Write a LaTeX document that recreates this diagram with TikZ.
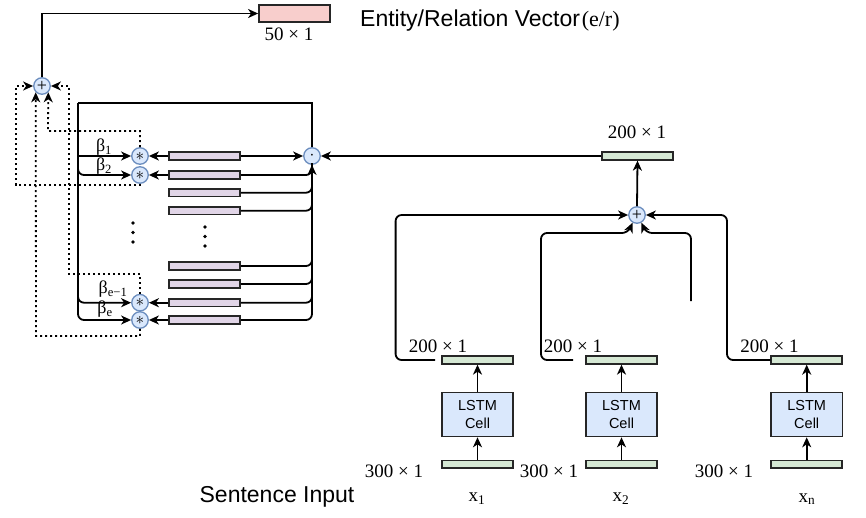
\documentclass[tikz,border=0pt]{standalone}
\usepackage{fontspec}
\setmainfont{Liberation Serif}
\newfontfamily\sansf{Liberation Sans}
\usetikzlibrary{arrows.meta,calc}
\definecolor{cfill}{HTML}{DAE8FC}
\definecolor{cline}{HTML}{6C8EBF}
\definecolor{pfill}{HTML}{E1D5E7}
\definecolor{gfill}{HTML}{D5E8D4}
\definecolor{rfill}{HTML}{F8CECC}
\begin{document}
\begin{tikzpicture}[x=1pt,y=-1pt,
  opnode/.style={circle,draw=cline,fill=cfill,line width=1.3pt,minimum size=16.5pt,inner sep=0pt,font=\fontsize{18}{18}\selectfont},
  barnode/.style={draw=black!85,line width=1.8pt,minimum width=71pt,minimum height=7.5pt,inner sep=0pt},
  pbar/.style={barnode,fill=pfill},
  gbar/.style={barnode,fill=gfill},
  lstmbox/.style={draw=black!85,fill=cfill,line width=1.6pt,minimum width=71.5pt,minimum height=44pt,align=center,inner sep=0pt,font=\sansf\fontsize{14.5}{17.5}\selectfont},
  lbl/.style={font=\fontsize{19}{20}\selectfont,inner sep=0pt},
  blbl/.style={font=\fontsize{18}{19}\selectfont,inner sep=0pt},
  arr/.style={line width=1.8pt,-{Stealth[length=10pt,width=9pt,inset=3pt]}},
  ln/.style={line width=1.8pt},
  dotline/.style={line width=2pt,dash pattern=on 2pt off 3pt},
  rc/.style={rounded corners=6pt},
]
\useasboundingbox (0,0) rectangle (866,517);

% top output
\node[draw=black!85,fill=rfill,line width=1.8pt,minimum width=71pt,minimum height=16.5pt,inner sep=0pt] (pink) at (294.5,13.5) {};
\node[lbl] (l50) at (289,34) {50 × 1};
\node[anchor=base west,inner sep=0pt] (title) at (360,26) {{\sansf\fontsize{23}{25}\selectfont Entity/Relation Vector}\,\fontsize{22}{24}\selectfont(e/r)};

% operator nodes
\node[opnode] (p1) at (42,86) {+};
\node[opnode] (s1) at (140,156) {$\ast$};
\node[opnode] (s2) at (140,175) {$\ast$};
\node[opnode] (se1) at (140,302.7) {$\ast$};
\node[opnode] (se) at (140,320) {$\ast$};
\node[opnode] (dot) at (312,156) {$\cdot$};
\node[opnode] (p2) at (637,215) {+};

% purple bars
\node[pbar] (b1) at (204.5,156) {};
\node[pbar] (b2) at (204.5,175) {};
\node[pbar] (b3) at (204.5,192.7) {};
\node[pbar] (b4) at (204.5,210.7) {};
\node[pbar] (b5) at (204.5,266) {};
\node[pbar] (b6) at (204.5,284) {};
\node[pbar] (b7) at (204.5,302.7) {};
\node[pbar] (b8) at (204.5,320) {};

% vertical ellipses
\foreach \yy in {223,232.5,242} \fill (133,\yy) circle (1.8pt);
\foreach \yy in {227,236.5,246} \fill (205,\yy) circle (1.8pt);

% beta labels
\node[blbl] (beta1) at (104,147) {β\textsubscript{1}};
\node[blbl] (beta2) at (104,166) {β\textsubscript{2}};
\node[blbl] (betae1) at (113,289) {β\textsubscript{e−1}};
\node[blbl] (betae) at (105,309) {β\textsubscript{e}};

% top green
\node[gbar] (g) at (637.5,156) {};
\node[lbl] (l200) at (637,132) {200 × 1};

% columns
\foreach \c/\x in {1/477.5,2/621.5,n/806.7}{
  \node[gbar] (t\c) at (\x,360) {};
  \node[lstmbox] (cell\c) at (\x,414.5) {LSTM\\Cell};
  \node[gbar] (in\c) at (\x,464.3) {};
  \draw[arr] (in\c.north) -- (cell\c.south);
  \draw[arr] (cell\c.north) -- (t\c.south);
}
\node[lbl] (h1) at (438,346) {200 × 1};
\node[lbl] (h2) at (573,346) {200 × 1};
\node[lbl] (hn) at (769.5,346) {200 × 1};
\node[lbl] (i1) at (394,471) {300 × 1};
\node[lbl] (i2) at (549,471) {300 × 1};
\node[lbl] (i3) at (724,471) {300 × 1};
\node[lbl] (x1) at (477,499) {x\textsubscript{1}};
\node[lbl] (x2) at (621,499) {x\textsubscript{2}};
\node[lbl] (xn) at (807,499) {x\textsubscript{n}};
\node[inner sep=0pt,font=\sansf\fontsize{23}{25}\selectfont] (sent) at (277,497) {Sentence Input};

% connectors top
\draw[arr] (p1.north) |- (pink.west);

% dotted feedback
\draw[dotline,arr] (s1.north) |- (48,131) -- (p1.-45);
\draw[dotline,arr] (s2.south) |- (16,185) |- (p1.west);
\draw[dotline,arr] (se1.north) |- (69,274) |- (p1.east);
\draw[dotline,arr] (se.south) |- (36,336) -- (p1.-135);

% attention loop
\coordinate (tl) at (78,103);
\draw[ln] (dot.north) |- (tl);
\draw[arr] (tl) |- (s1.west);
\draw[arr,rc] (tl) |- (s2.west);
\draw[arr,rc] (tl) |- (se1.west);
\draw[arr,rc] (tl) |- (se.west);

% bars to stars and dot
\draw[arr] (b1.west) -- (s1.east);
\draw[arr] (b2.west) -- (s2.east);
\draw[arr] (b7.west) -- (se1.east);
\draw[arr] (b8.west) -- (se.east);
\draw[arr] (b1.east) -- (dot.west);
\draw[arr,rc] (b8.east) -| (dot.south);
\foreach \b in {b2,b3,b4,b5,b6,b7}
  \draw[ln,rc] (\b.east) -| ($(\b.east -| dot.south)+(0,-12)$);

% green to dot
\draw[arr] (g.west) -- (dot.east);
\draw[arr] (p2.north) -- (g.south);

% lstm outputs to plus
\draw[arr,rc] ($(t1.west)+(-6,0)$) -- ($(t1.west)+(-45.5,0)$) |- (p2.west);
\draw[arr,rc] ($(t2.west)+(-12,0)$) -- (541,360) -- (541,233) -- (628,233) -- (p2.-120);
\draw[arr,rc] (691,301) -- (691,233) -- (646,233) -- (p2.-60);
\draw[arr,rc] (tn.west) -- (727,360) |- (p2.east);
\end{tikzpicture}
\end{document}
